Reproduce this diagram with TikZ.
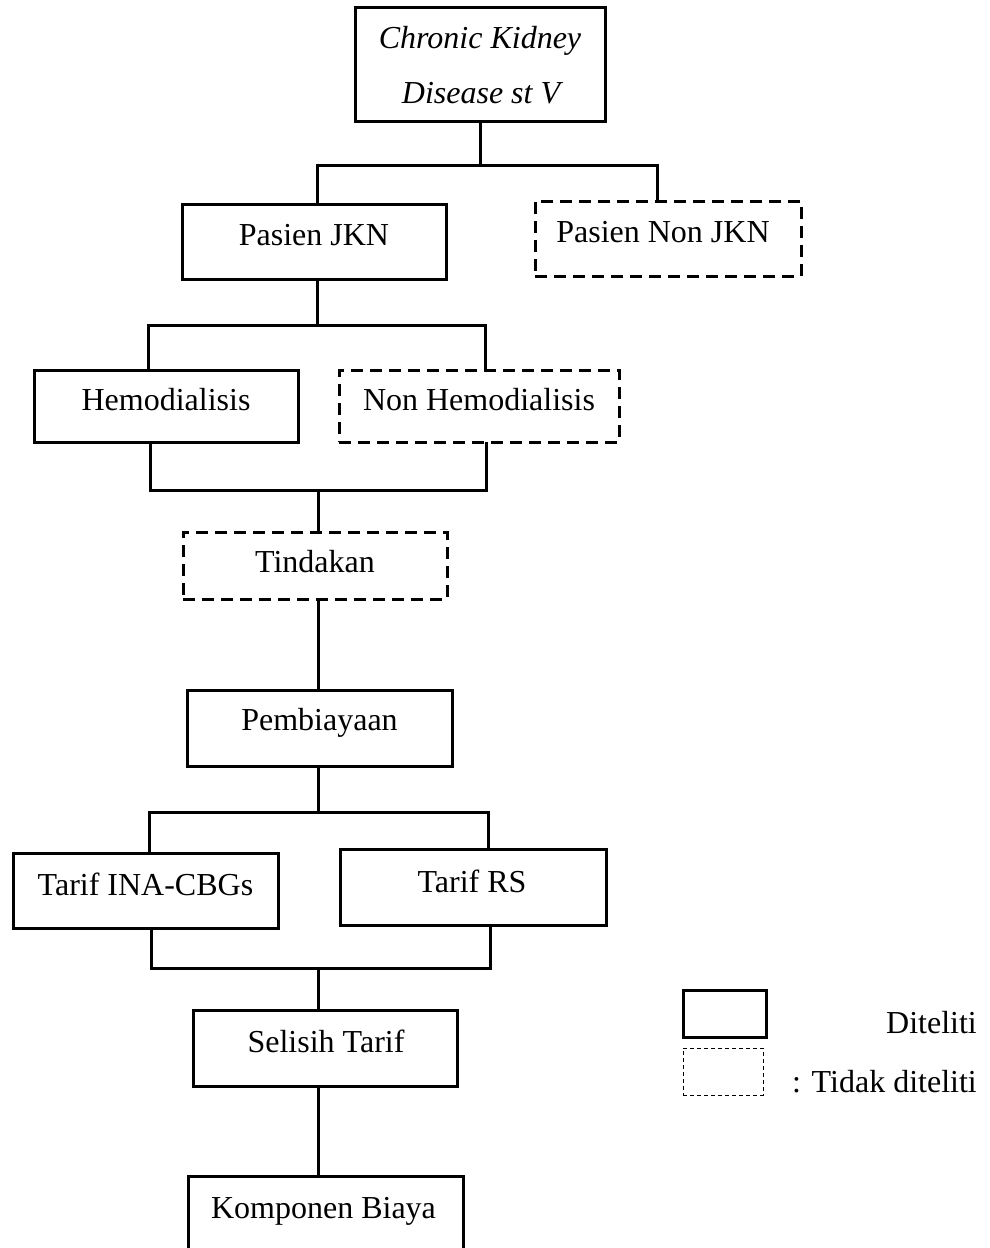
\documentclass[tikz,border=0pt]{standalone}
\usepackage{fontspec}
\setmainfont{Liberation Serif}
\begin{document}
\begin{tikzpicture}[x=1pt,y=-1pt,
  sbox/.style={draw, line width=3pt, rectangle, inner sep=0pt},
  dbox/.style={sbox, dash pattern=on 12pt off 7pt},
  lbl/.style={font=\fontsize{32}{38}\selectfont, anchor=base, inner sep=0pt},
  conn/.style={line width=3pt, line cap=rect},
  legsolid/.style={draw, line width=3pt, rectangle, inner sep=0pt},
  legdash/.style={draw, line width=0.9pt, rectangle, inner sep=0pt, dash pattern=on 4pt off 3pt}]
\useasboundingbox (0,0) rectangle (989,1248);
\fill[white] (0,0) rectangle (989,1248);

% boxes
\node[sbox, minimum width=250pt, minimum height=114pt] (ckd) at (480,64) {};
\node[sbox, minimum width=264pt, minimum height=75pt] (jkn) at (314,241.5) {};
\node[dbox, minimum width=266pt, minimum height=75pt] (nonjkn) at (668,238.5) {};
\node[sbox, minimum width=264pt, minimum height=72pt] (hemo) at (166,406) {};
\node[dbox, minimum width=280pt, minimum height=72pt] (nonhemo) at (479,406) {};
\node[dbox, minimum width=264pt, minimum height=67pt] (tindakan) at (315,565.5) {};
\node[sbox, minimum width=265pt, minimum height=76pt] (pemb) at (319.5,728) {};
\node[sbox, minimum width=265pt, minimum height=75pt] (ina) at (145.5,890.5) {};
\node[sbox, minimum width=266pt, minimum height=76pt] (rs) at (473,887) {};
\node[sbox, minimum width=264pt, minimum height=76pt] (selisih) at (325,1048) {};
\node[sbox, minimum width=275pt, minimum height=90pt] (komp) at (325.5,1221) {};

% texts
\node[lbl, font=\fontsize{32}{38}\selectfont\itshape] (ckdT1) at (480,48) {Chronic Kidney};
\node[lbl, font=\fontsize{32}{38}\selectfont\itshape] (ckdT2) at (481,103) {Disease st V};
\node[lbl] (jknT) at (314,245) {Pasien JKN};
\node[lbl] (nonjknT) at (663,242) {Pasien Non JKN};
\node[lbl] (hemoT) at (166,410) {Hemodialisis};
\node[lbl] (nonhemoT) at (479,410) {Non Hemodialisis};
\node[lbl] (tindakanT) at (315,572) {Tindakan};
\node[lbl] (pembT) at (319.5,730) {Pembiayaan};
\node[lbl] (inaT) at (145.5,895) {Tarif INA-CBGs};
\node[lbl] (rsT) at (472,892) {Tarif RS};
\node[lbl] (selisihT) at (326,1052) {Selisih Tarif};
\node[lbl] (kompT) at (323.5,1218) {Komponen Biaya};

% connectors
\coordinate (a1) at (317,165);
\coordinate (a2) at (657,165);
\draw[conn] (ckd.south) -- (ckd.south |- a1);
\draw[conn] (a1) -- (a2);
\draw[conn] (a1) -- (a1 |- jkn.north);
\draw[conn] (a2) -- (a2 |- nonjkn.north);

\coordinate (b0) at (317,325);
\coordinate (b1) at (148,325);
\coordinate (b2) at (485,325);
\draw[conn] (jkn.south -| b0) -- (b0);
\draw[conn] (b1) -- (b2);
\draw[conn] (b1) -- (b1 |- hemo.north);
\draw[conn] (b2) -- (b2 |- nonhemo.north);

\coordinate (c0) at (318,490);
\coordinate (c1) at (150,490);
\coordinate (c2) at (486,490);
\draw[conn] (hemo.south -| c1) -- (c1) -- (c2) -- (nonhemo.south -| c2);
\draw[conn] (c0) -- (c0 |- tindakan.north);
\draw[conn] (tindakan.south -| c0) -- (c0 |- pemb.north);

\coordinate (d0) at (318,812);
\coordinate (d1) at (149,812);
\coordinate (d2) at (488,812);
\draw[conn] (pemb.south -| d0) -- (d0);
\draw[conn] (d1) -- (d2);
\draw[conn] (d1) -- (d1 |- ina.north);
\draw[conn] (d2) -- (d2 |- rs.north);

\coordinate (e0) at (318,968);
\coordinate (e1) at (151,968);
\coordinate (e2) at (490,968);
\draw[conn] (ina.south -| e1) -- (e1) -- (e2) -- (rs.south -| e2);
\draw[conn] (e0) -- (e0 |- selisih.north);
\draw[conn] (selisih.south -| e0) -- (e0 |- komp.north);

% legend
\node[legsolid, minimum width=83pt, minimum height=47pt] (leg1) at (724.5,1013.5) {};
\node[legdash, minimum width=80pt, minimum height=47pt] (leg2) at (723,1071.5) {};
\node[lbl, anchor=base east] (leg1T) at (977,1033) {Diteliti};
\node[lbl, anchor=base east] (leg2T) at (977,1092) {: Tidak diteliti};
\end{tikzpicture}
\end{document}
